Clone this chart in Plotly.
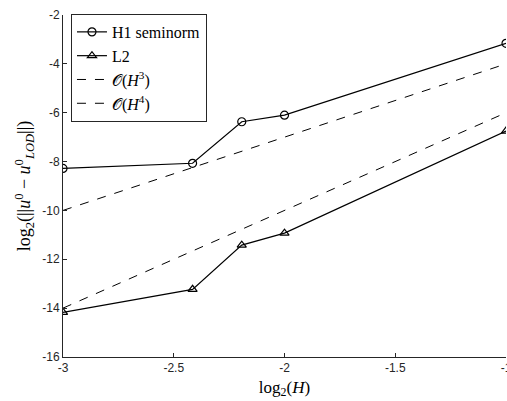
import plotly.graph_objects as go

log2H = [-3.0, -2.415, -2.193, -2.0, -1.0]
h1_seminorm = [-8.28, -8.07, -6.37, -6.10, -3.16]
l2_error = [-14.17, -13.23, -11.42, -10.93, -6.75]
ref_x = [-3.0, -1.0]
ref_h3 = [-10.0, -4.0]
ref_h4 = [-14.0, -6.0]

x_ticks = [-3, -2.5, -2, -1.5, -1]
y_ticks = [-16, -14, -12, -10, -8, -6, -4, -2]

fig = go.Figure()
fig.add_trace(go.Scatter(
    x=log2H, y=h1_seminorm, mode="lines+markers", name="H1 seminorm",
    line=dict(color="black", width=1.2),
    marker=dict(symbol="circle-open", size=8, color="black", line=dict(width=1.2))))
fig.add_trace(go.Scatter(
    x=log2H, y=l2_error, mode="lines+markers", name="L2",
    line=dict(color="black", width=1.2),
    marker=dict(symbol="triangle-up-open", size=8, color="black", line=dict(width=1.2))))
fig.add_trace(go.Scatter(
    x=ref_x, y=ref_h3, mode="lines", name="𝒪(<i>H</i><sup>3</sup>)",
    line=dict(color="black", width=1, dash="dash")))
fig.add_trace(go.Scatter(
    x=ref_x, y=ref_h4, mode="lines", name="𝒪(<i>H</i><sup>4</sup>)",
    line=dict(color="black", width=1, dash="dash")))

axis_common = dict(
    showline=True, linecolor="#262626", linewidth=1, mirror=False,
    ticks="inside", ticklen=4, tickcolor="#262626", showgrid=False, zeroline=False,
    automargin=False, ticklabeloverflow="allow",
    tickfont=dict(family="Liberation Sans, Arial, sans-serif", size=12, color="#262626"),
)

fig.update_layout(
    width=507, height=401,
    margin=dict(l=63, r=1, t=15, b=44),
    paper_bgcolor="white", plot_bgcolor="white",
    font=dict(family="Liberation Serif, Times New Roman, serif", color="black"),
    xaxis=dict(range=[-3, -1], tickvals=x_ticks, ticktext=[str(v) for v in x_ticks],
               title=dict(text="log<sub>2</sub>(<i>H</i>)", font=dict(size=17), standoff=6),
               **axis_common),
    yaxis=dict(range=[-16, -2], tickvals=y_ticks, ticktext=[str(v) for v in y_ticks],
               title=dict(text="log<sub>2</sub>(||<i>u</i><sup>0</sup> − <i>u</i><sup>0</sup><sub><i>LOD</i></sub>||)",
                          font=dict(size=18), standoff=6),
               **axis_common),
    legend=dict(x=0.018, y=1.003, xanchor="left", yanchor="top",
                bgcolor="white", bordercolor="#262626", borderwidth=1,
                font=dict(family="Liberation Serif, Times New Roman, serif", size=16, color="black"),
                tracegroupgap=0, itemwidth=30),
    showlegend=True,
)

fig.write_html("out.html", config={"displayModeBar": False},
               post_script="document.body.style.margin='0';document.body.style.overflow='hidden';")
